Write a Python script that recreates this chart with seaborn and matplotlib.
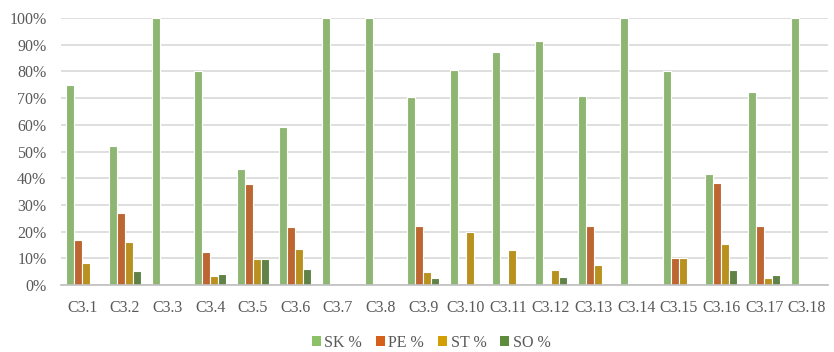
import matplotlib
matplotlib.use("Agg")
import matplotlib.pyplot as plt
import seaborn as sns
import pandas as pd
from matplotlib.ticker import PercentFormatter
from matplotlib.patches import Patch

categories = [f"C3.{i}" for i in range(1, 19)]
sk = [75.0, 52.0, 100, 80.0, 43.4, 59.0, 100, 100, 70.4, 80.5, 87.1, 91.5, 70.8, 100, 80.0, 41.4, 72.2, 100]
pe = [16.8, 26.8, 0, 12.5, 37.8, 21.6, 0, 0, 22.2, 0, 0, 0, 22.0, 0, 10.1, 38.2, 22.1, 0]
st = [8.4, 16.0, 0, 3.4, 9.6, 13.5, 0, 0, 4.9, 19.7, 13.1, 5.7, 7.4, 0, 10.1, 15.4, 2.5, 0]
so = [0, 5.4, 0, 4.2, 9.6, 6.1, 0, 0, 2.7, 0, 0, 3.0, 0, 0, 0, 5.6, 3.6, 0]
series = ["SK %", "PE %", "ST %", "SO %"]
colors = ["#8CC168", "#D4601A", "#D29E05", "#5E8C3C"]

df = pd.DataFrame({"cat": categories * 4,
                   "series": sum([[s] * len(categories) for s in series], []),
                   "value": sk + pe + st + so})

sns.set_style("white")
plt.rcParams["font.family"] = ["Liberation Serif", "DejaVu Serif"]

fig = plt.figure(figsize=(8.34, 3.52), dpi=100)
ax = fig.add_axes([61 / 834, 1 - 285 / 352, (828 - 61) / 834, (285 - 18) / 352])

sns.barplot(data=df, x="cat", y="value", hue="series", palette=colors,
            width=0.75, edgecolor="white", linewidth=0.8, ax=ax, legend=False)

ax.set_ylim(0, 100)
ax.set_xlim(-0.5, len(categories) - 0.5)
ax.set_yticks(range(0, 101, 10))
ax.yaxis.set_major_formatter(PercentFormatter(decimals=0))
ax.grid(axis="y", color="#D9D9D9", linewidth=1.2)
ax.set_axisbelow(True)
for s in ["left", "right", "top"]:
    ax.spines[s].set_visible(False)
ax.spines["bottom"].set_color("#BFBFBF")
ax.spines["bottom"].set_linewidth(1.2)
ax.set_xlabel("")
ax.set_ylabel("")
ax.tick_params(axis="both", length=0, labelsize=11.5, colors="#595959")
ax.tick_params(axis="x", pad=10.5)
ax.tick_params(axis="y", pad=10.5)

handles = [Patch(facecolor=c, edgecolor="none") for c in colors]
fig.legend(handles, series, loc="center", bbox_to_anchor=(431 / 834, 1 - 343 / 352),
           ncol=4, frameon=False, fontsize=11.5, handlelength=0.6, handleheight=0.6,
           handletextpad=0.2, columnspacing=0.85, labelcolor="#595959",
           borderpad=0, borderaxespad=0)

fig.savefig("out.png", dpi=100)
